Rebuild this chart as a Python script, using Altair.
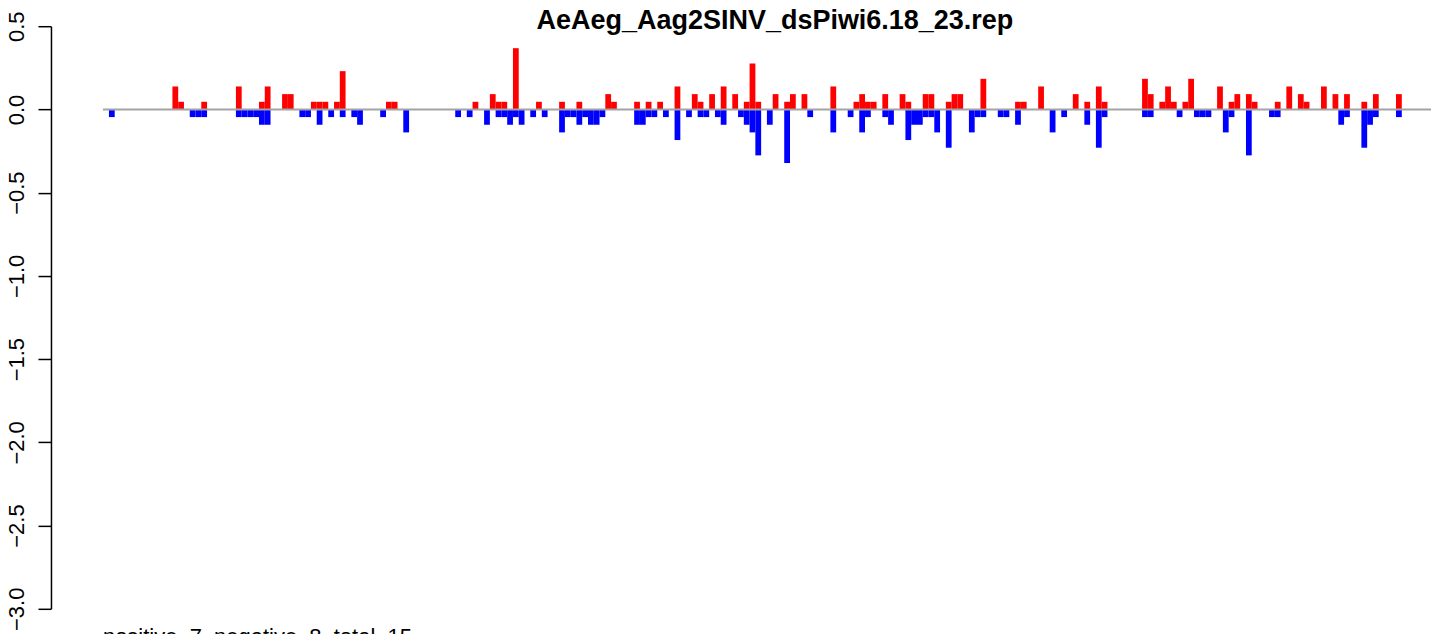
import altair as alt
import pandas as pd

title_text = "AeAeg_Aag2SINV_dsPiwi6.18_23.rep"
n_pos, n_neg, n_tot = 7, 8, 15
y_ticks = [-3.0, -2.5, -2.0, -1.5, -1.0, -0.5, 0.0, 0.5]

# bin index along the sequence -> value (positive strand, red)
pos_slots = [11, 12, 16, 22, 26, 27, 30, 31, 35, 36, 37, 39, 40, 48, 49, 63, 66, 67, 68, 70,
             74, 78, 81, 86, 87, 91, 93, 95, 98, 101, 102, 104, 106, 108, 110, 111, 112, 115,
             117, 118, 120, 125, 129, 130, 131, 132, 134, 137, 138, 141, 142, 145, 146, 147,
             151, 157, 158, 161, 167, 169, 171, 172, 179, 180, 182, 183, 184, 186, 187, 192,
             194, 195, 197, 198, 202, 204, 206, 207, 210, 212, 214, 217, 219, 223]
pos_values = [0.138, 0.046, 0.046, 0.138, 0.046, 0.138, 0.092, 0.092, 0.046, 0.046, 0.046, 0.046, 0.23, 0.046, 0.046, 0.046, 0.092, 0.046, 0.046, 0.368,
              0.046, 0.046, 0.046, 0.092, 0.046, 0.046, 0.046, 0.046, 0.138, 0.092, 0.046, 0.092, 0.138, 0.092, 0.046, 0.276, 0.046, 0.092,
              0.046, 0.092, 0.092, 0.138, 0.046, 0.092, 0.046, 0.046, 0.092, 0.092, 0.046, 0.092, 0.092, 0.046, 0.092, 0.092,
              0.184, 0.046, 0.046, 0.138, 0.092, 0.046, 0.138, 0.046, 0.184, 0.092, 0.046, 0.138, 0.046, 0.046, 0.184, 0.138,
              0.046, 0.092, 0.092, 0.046, 0.046, 0.138, 0.092, 0.046, 0.138, 0.092, 0.092, 0.046, 0.092, 0.092]

# bin index -> value (negative strand, blue)
neg_slots = [0, 14, 15, 16, 22, 23, 24, 25, 26, 27, 33, 34, 36, 38, 40, 42, 43, 47, 51, 60,
             62, 65, 67, 68, 69, 70, 71, 73, 75, 78, 79, 80, 81, 82, 83, 84, 85, 91, 92, 93,
             94, 96, 98, 100, 102, 103, 105, 106, 109, 110, 111, 112, 114, 117, 121, 125, 128,
             130, 131, 134, 135, 138, 139, 140, 141, 142, 143, 145, 149, 150, 151, 154, 155,
             157, 163, 165, 169, 171, 172, 179, 180, 185, 188, 189, 190, 193, 194, 197, 201,
             202, 213, 214, 217, 218, 219, 223]
neg_values = [-0.046, -0.046, -0.046, -0.046, -0.046, -0.046, -0.046, -0.046, -0.092, -0.092, -0.046, -0.046, -0.092, -0.046, -0.046, -0.046, -0.092, -0.046, -0.138, -0.046,
              -0.046, -0.092, -0.046, -0.046, -0.092, -0.046, -0.092, -0.046, -0.046, -0.138, -0.046, -0.046, -0.092, -0.046, -0.092, -0.092, -0.046, -0.092, -0.092, -0.046,
              -0.046, -0.046, -0.184, -0.046, -0.046, -0.046, -0.046, -0.092, -0.046, -0.092, -0.138, -0.276, -0.092, -0.322, -0.046, -0.138, -0.046,
              -0.138, -0.046, -0.046, -0.092, -0.184, -0.092, -0.092, -0.046, -0.046, -0.138, -0.23, -0.138, -0.046, -0.046, -0.046, -0.046,
              -0.092, -0.138, -0.046, -0.092, -0.23, -0.046, -0.046, -0.046, -0.046, -0.046, -0.046, -0.046, -0.138, -0.046, -0.276, -0.046,
              -0.046, -0.092, -0.046, -0.23, -0.092, -0.046, -0.046]

bars_df = pd.DataFrame({
    "slot": pos_slots + neg_slots,
    "value": pos_values + neg_values,
    "strand": ["positive"] * len(pos_slots) + ["negative"] * len(neg_slots),
})

FONT = "Liberation Sans"
x_scale = alt.Scale(domain=[-1.04, 229.06], nice=False, zero=False)
y_scale = alt.Scale(domain=[-3.0, 0.5], nice=False, zero=False)
y_axis = alt.Axis(values=y_ticks, format=".1f", title=None, grid=False,
                  labelAngle=270, labelAlign="center", labelBaseline="alphabetic",
                  labelFont=FONT, labelFontSize=22, labelColor="black",
                  labelPadding=14, labelOverlap=False, tickSize=13,
                  tickColor="black", tickWidth=1.5, domainColor="black",
                  domainWidth=1.5, offset=52)

bars = alt.Chart(bars_df).transform_calculate(
    slot_end="datum.slot + 1"
).mark_rect(strokeWidth=0).encode(
    x=alt.X("slot:Q", scale=x_scale, axis=None),
    x2="slot_end:Q",
    y=alt.Y("value:Q", scale=y_scale, axis=y_axis),
    y2=alt.datum(0),
    color=alt.Color("strand:N",
                    scale=alt.Scale(domain=["positive", "negative"], range=["#FF0000", "#0000FF"]),
                    legend=None),
)

baseline = alt.Chart(pd.DataFrame({"zero": [0.0]})).mark_rule(
    color="#A3A3A3", strokeWidth=2
).encode(y=alt.Y("zero:Q", scale=y_scale, axis=y_axis))

title = alt.Chart(pd.DataFrame({"t": [title_text]})).mark_text(
    font=FONT, fontSize=27, fontWeight="bold", align="center", baseline="alphabetic",
    color="black"
).encode(x=alt.value(672.5), y=alt.value(3), text="t:N")

footer = alt.Chart(pd.DataFrame({"t": [f"positive, {n_pos}, negative, {n_neg}, total, {n_tot}"]})).mark_text(
    font=FONT, fontSize=22, align="left", baseline="alphabetic", color="black"
).encode(x=alt.value(0), y=alt.value(618), text="t:N")

chart = alt.layer(bars, baseline, title, footer).properties(
    width=1329, height=583,
    padding={"left": 95, "top": 18, "right": 5, "bottom": 40},
    autosize=alt.AutoSizeParams(type="none"),
    background="white",
).configure_view(stroke=None)

chart.save("out.html", embed_options={"renderer": "svg", "actions": False})
